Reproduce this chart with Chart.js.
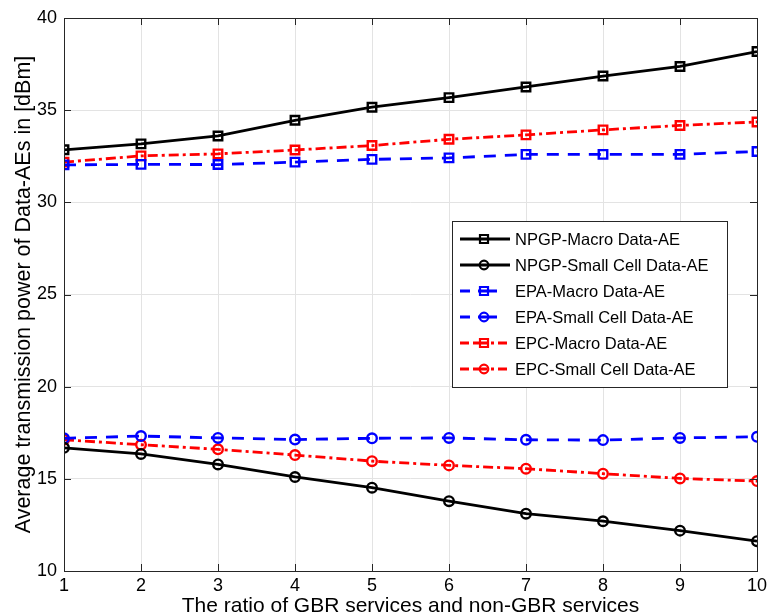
<!DOCTYPE html>
<html>
<head>
<meta charset="utf-8">
<script src="https://cdn.jsdelivr.net/npm/chart.js@4"></script>
<style>
  html, body { margin: 0; padding: 0; background: #fff; }
  #wrap { width: 767px; height: 616px; }
</style>
</head>
<body>
<div id="wrap"><canvas id="chart"></canvas></div>
<script>
// data
const ratios = [1, 2, 3, 4, 5, 6, 7, 8, 9, 10];
const npgpMacro = [32.85, 33.17, 33.6, 34.45, 35.16, 35.68, 36.26, 36.85, 37.37, 38.18];
const npgpSmall = [16.68, 16.35, 15.78, 15.1, 14.52, 13.79, 13.11, 12.7, 12.19, 11.62];
const epaMacro = [32.03, 32.06, 32.05, 32.18, 32.33, 32.41, 32.6, 32.6, 32.6, 32.76];
const epaSmall = [17.2, 17.32, 17.22, 17.13, 17.2, 17.22, 17.12, 17.1, 17.22, 17.28];
const epcMacro = [32.18, 32.52, 32.63, 32.84, 33.08, 33.42, 33.66, 33.93, 34.17, 34.36];
const epcSmall = [17.12, 16.85, 16.6, 16.29, 15.96, 15.73, 15.55, 15.28, 15.02, 14.88];
const yTicks = [10, 15, 20, 25, 30, 35, 40];

const FONT = '"Liberation Sans", Arial, Helvetica, sans-serif';
const AXIS = '#262626';

const dashStyle = [12, 9];
const dashDot = [10, 4, 3, 4];

// short line samples used in the legend box
const legendSample = {
    solid: { dash: [], len: 50 },
    dashed: { dash: [10, 8, 19, 100], len: 37 },
    dashdot: { dash: [9, 4, 14, 4, 3, 4], len: 47 }
};

function series(label, values, color, dash, marker, sample) {
    return {
        label: label,
        data: ratios.map((r, i) => ({ x: r, y: values[i] })),
        borderColor: color,
        borderWidth: 2.8,
        borderDash: dash,
        pointStyle: marker,
        pointRadius: marker === 'rect' ? 6 : 4.8,
        pointBorderWidth: 2.4,
        pointBackgroundColor: 'rgba(0,0,0,0)',
        pointBorderColor: color,
        tension: 0,
        sample: sample
    };
}

// MATLAB-like box with inward tick marks
const boxPlugin = {
    id: 'box',
    afterDatasetsDraw(chart) {
        const { ctx, chartArea: a, scales } = chart;
        ctx.save();
        ctx.strokeStyle = AXIS;
        ctx.lineWidth = 1;
        ctx.strokeRect(a.left + 0.5, a.top + 0.5, a.right - a.left, a.bottom - a.top);
        ctx.beginPath();
        scales.x.ticks.forEach(t => {
            const px = Math.round(scales.x.getPixelForValue(t.value)) + 0.5;
            ctx.moveTo(px, a.bottom); ctx.lineTo(px, a.bottom - 7);
            ctx.moveTo(px, a.top); ctx.lineTo(px, a.top + 7);
        });
        scales.y.ticks.forEach(t => {
            const py = Math.round(scales.y.getPixelForValue(t.value)) + 0.5;
            ctx.moveTo(a.left, py); ctx.lineTo(a.left + 7, py);
            ctx.moveTo(a.right, py); ctx.lineTo(a.right - 7, py);
        });
        ctx.stroke();
        ctx.restore();
    }
};

// legend box inside the plot
const legendPlugin = {
    id: 'boxLegend',
    afterDraw(chart) {
        const { ctx, chartArea: a } = chart;
        const w = 275, h = 166, rowH = 26;
        const x0 = a.right - 30 - w;
        const y0 = a.top + 203;
        ctx.save();
        ctx.fillStyle = '#fff';
        ctx.fillRect(x0, y0, w, h);
        ctx.strokeStyle = AXIS;
        ctx.lineWidth = 1;
        ctx.strokeRect(x0 + 0.5, y0 + 0.5, w, h);
        ctx.font = '16.5px ' + FONT;
        ctx.textBaseline = 'middle';
        chart.data.datasets.forEach((ds, i) => {
            const cy = y0 + 18 + i * rowH;
            const lx = x0 + 8;
            const s = legendSample[ds.sample];
            ctx.strokeStyle = ds.borderColor;
            ctx.lineWidth = ds.borderWidth;
            ctx.setLineDash(s.dash);
            ctx.beginPath();
            ctx.moveTo(lx, cy); ctx.lineTo(lx + s.len, cy);
            ctx.stroke();
            ctx.setLineDash([]);
            ctx.lineWidth = 2.2;
            const mx = lx + 24;
            ctx.beginPath();
            if (ds.pointStyle === 'rect') {
                ctx.rect(mx - 4, cy - 4, 8, 8);
            } else {
                ctx.arc(mx, cy, 4.3, 0, Math.PI * 2);
            }
            ctx.stroke();
            ctx.fillStyle = '#000';
            ctx.fillText(ds.label, x0 + 63, cy + 1);
        });
        ctx.restore();
    }
};

new Chart(document.getElementById('chart'), {
    type: 'line',
    data: {
        datasets: [
            series('NPGP-Macro Data-AE', npgpMacro, '#000000', [], 'rect', 'solid'),
            series('NPGP-Small Cell Data-AE', npgpSmall, '#000000', [], 'circle', 'solid'),
            series('EPA-Macro Data-AE', epaMacro, '#0000ff', dashStyle, 'rect', 'dashed'),
            series('EPA-Small Cell Data-AE', epaSmall, '#0000ff', dashStyle, 'circle', 'dashed'),
            series('EPC-Macro Data-AE', epcMacro, '#ff0000', dashDot, 'rect', 'dashdot'),
            series('EPC-Small Cell Data-AE', epcSmall, '#ff0000', dashDot, 'circle', 'dashdot')
        ]
    },
    options: {
        responsive: true,
        maintainAspectRatio: false,
        animation: false,
        layout: { padding: { top: 18, right: 10, left: 0, bottom: 0 } },
        plugins: {
            legend: { display: false },
            tooltip: { enabled: false }
        },
        scales: {
            x: {
                type: 'linear',
                min: 1,
                max: 10,
                afterFit: s => { s.height = 45; s.paddingRight = 0; s.paddingLeft = 0; },
                ticks: { stepSize: 1, color: '#000', padding: 4, font: { family: FONT, size: 18 } },
                grid: { color: '#e3e3e3', drawTicks: false },
                border: { display: false },
                title: {
                    display: true,
                    text: 'The ratio of GBR services and non-GBR services',
                    color: '#000',
                    font: { family: FONT, size: 21 },
                    padding: { top: 0, bottom: -3 }
                }
            },
            y: {
                min: 10,
                max: 40,
                afterFit: s => { s.width = 64; },
                afterBuildTicks: s => { s.ticks = yTicks.map(v => ({ value: v })); },
                ticks: { color: '#000', padding: 7, font: { family: FONT, size: 18 } },
                grid: { color: '#e3e3e3', drawTicks: false },
                border: { display: false },
                title: {
                    display: true,
                    text: 'Average transmission power of Data-AEs in [dBm]',
                    color: '#000',
                    font: { family: FONT, size: 21.5 },
                    padding: { top: 11, bottom: 0 }
                }
            }
        }
    },
    plugins: [boxPlugin, legendPlugin]
});
</script>
</body>
</html>
